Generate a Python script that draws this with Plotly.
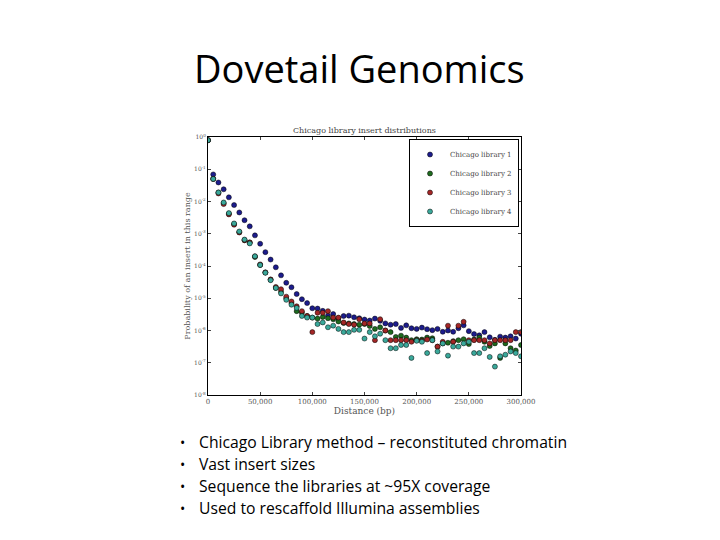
import plotly.graph_objects as go

## Datos (log10 de la probabilidad)
distance = [i * 5000 for i in range(61)]

lib1_log = [-0.1, -1.16, -1.41, -1.62, -1.87, -2.11, -2.34, -2.58, -2.77, -3.05, -3.31,
            -3.57, -3.80, -4.04, -4.29, -4.52, -4.66, -4.87, -5.03, -5.15, -5.31,
            -5.32, -5.39, -5.54, -5.49, -5.62, -5.55, -5.54, -5.59, -5.62, -5.66,
            -5.69, -5.63, -5.70, -5.78, -5.82, -5.80, -5.92, -5.84, -5.93, -5.95,
            -5.91, -5.96, -5.99, -5.95, -6.04, -6.00, -6.04, -5.93, -5.84, -6.02,
            -6.11, -6.15, -6.05, -6.21, -6.29, -6.19, -6.22, -6.18, -6.25, -6.10]
lib2_log = [-0.1, -1.30, -1.72, -2.05, -2.38, -2.70, -2.95, -3.20, -3.27, -3.72, -3.97,
            -4.20, -4.42, -4.68, -4.80, -5.00, -5.15, -5.40, -5.45, -5.55, -5.60,
            -5.63, -5.58, -5.62, -5.65, -5.72, -5.77, -5.78, -5.80, -5.82, -5.80,
            -5.86, -5.95, -5.90, -6.00, -6.05, -6.20, -6.16, -6.22, -6.30, -6.27,
            -6.28, -6.22, -6.24, -6.50, -6.40, -6.38, -6.33, -6.30, -6.27, -6.42,
            -6.28, -6.22, -6.35, -6.48, -6.40, -6.85, -6.40, -6.55, -6.62, -6.45]
lib3_log = [-0.1, -1.30, -1.75, -2.08, -2.40, -2.72, -2.96, -3.20, -3.27, -3.70, -3.95,
            -4.20, -4.42, -4.65, -4.72, -4.95, -5.10, -5.25, -5.40, -5.55, -6.05,
            -5.45, -5.45, -5.40, -5.60, -5.60, -5.75, -5.80, -5.82, -5.65, -5.78,
            -5.78, -6.30, -5.65, -6.00, -6.30, -6.30, -6.30, -6.30, -6.35, -6.30,
            -6.32, -6.28, -6.30, -6.50, -6.35, -5.85, -6.35, -5.85, -5.73, -6.30,
            -6.30, -6.30, -6.30, -6.40, -6.30, -6.30, -6.30, -6.30, -6.05, -6.05]
lib4_log = [-0.1, -1.30, -1.72, -2.03, -2.36, -2.68, -2.93, -3.18, -3.30, -3.70, -3.97,
            -4.21, -4.44, -4.68, -4.85, -5.05, -5.20, -5.30, -5.55, -5.60, -5.60,
            -5.80, -5.75, -5.90, -5.85, -5.95, -6.05, -6.05, -5.98, -5.98, -6.25,
            -6.05, -6.18, -6.10, -6.30, -6.55, -6.55, -6.45, -6.45, -6.85, -6.32,
            -6.35, -6.70, -6.30, -6.65, -6.40, -6.78, -6.50, -6.50, -6.40, -6.35,
            -6.70, -6.70, -6.55, -6.82, -7.12, -6.80, -6.75, -6.65, -6.70, -6.80]

series = [("Chicago library 1", lib1_log, "#1c1c8c"),
          ("Chicago library 2", lib2_log, "#1e6b1e"),
          ("Chicago library 3", lib3_log, "#a32626"),
          ("Chicago library 4", lib4_log, "#3aa89a")]

bullets = ["Chicago Library method – reconstituted chromatin",
           "Vast insert sizes",
           "Sequence the libraries at ~95X coverage",
           "Used to rescaffold Illumina assemblies"]

y_ticks = list(range(0, -9, -1))
x_ticks = [0, 50000, 100000, 150000, 200000, 250000, 300000]

# la pagina tiene ~8 px de margen, se corrige aqui
OFF = 8
def px(v):
    return (v - OFF) / 720
def py(v):
    return 1 - (v - OFF) / 540

fig = go.Figure()
for name, vals, color in series:
    fig.add_trace(go.Scatter(x=distance, y=[10 ** v for v in vals],
                             mode="markers", name=name,
                             marker=dict(color=color, size=5,
                                         line=dict(color="black", width=0.5))))

serif = "DejaVu Serif"
fig.update_layout(
    width=720, height=540,
    paper_bgcolor="white", plot_bgcolor="white",
    margin=dict(l=0, r=0, t=0, b=0, autoexpand=False),
    showlegend=True,
    legend=dict(x=px(519), y=py(139), xanchor="right", yanchor="top",
                bordercolor="black", borderwidth=1, bgcolor="white",
                font=dict(family=serif, size=7, color="#444"),
                itemwidth=30, tracegroupgap=0),
    xaxis=dict(domain=[px(208), px(521)], range=[0, 300000],
               tickvals=x_ticks, ticktext=[f"{v:,}" for v in x_ticks],
               ticks="inside", ticklen=3, mirror="ticks", showline=True,
               linecolor="black", linewidth=1, showgrid=False, zeroline=False,
               tickfont=dict(family=serif, size=7, color="#555"),
               title=dict(text="Distance (bp)", standoff=2,
                          font=dict(family=serif, size=9, color="#555"))),
    yaxis=dict(domain=[py(395), py(137)], type="log", range=[-8, 0],
               tickvals=[10 ** e for e in y_ticks],
               ticktext=[f"10<sup>{e}</sup>" for e in y_ticks],
               ticks="inside", ticklen=3, mirror="ticks", showline=True,
               linecolor="black", linewidth=1, showgrid=False,
               tickfont=dict(family=serif, size=6, color="#555"),
               title=dict(text="Probability of an insert in this range", standoff=2,
                          font=dict(family=serif, size=8, color="#555"))),
)

fig.add_annotation(text="Dovetail Genomics", x=px(359), y=py(68), xref="paper", yref="paper",
                   showarrow=False, yanchor="middle",
                   font=dict(family="Open Sans", size=38, color="black"))
fig.add_annotation(text="Chicago library insert distributions", x=px(364), y=py(131),
                   xref="paper", yref="paper", showarrow=False, yanchor="middle",
                   font=dict(family=serif, size=8, color="#444"))

for i, b in enumerate(bullets):
    yy = py(442 + i * 22)
    fig.add_annotation(text="•", x=px(182), y=yy, xref="paper", yref="paper",
                       showarrow=False, xanchor="center", yanchor="middle",
                       font=dict(family="Open Sans", size=14, color="black"))
    fig.add_annotation(text=b, x=px(197), y=yy, xref="paper", yref="paper",
                       showarrow=False, xanchor="left", yanchor="middle",
                       font=dict(family="Open Sans", size=15.7, color="black"))

fig.write_html("out.html")
